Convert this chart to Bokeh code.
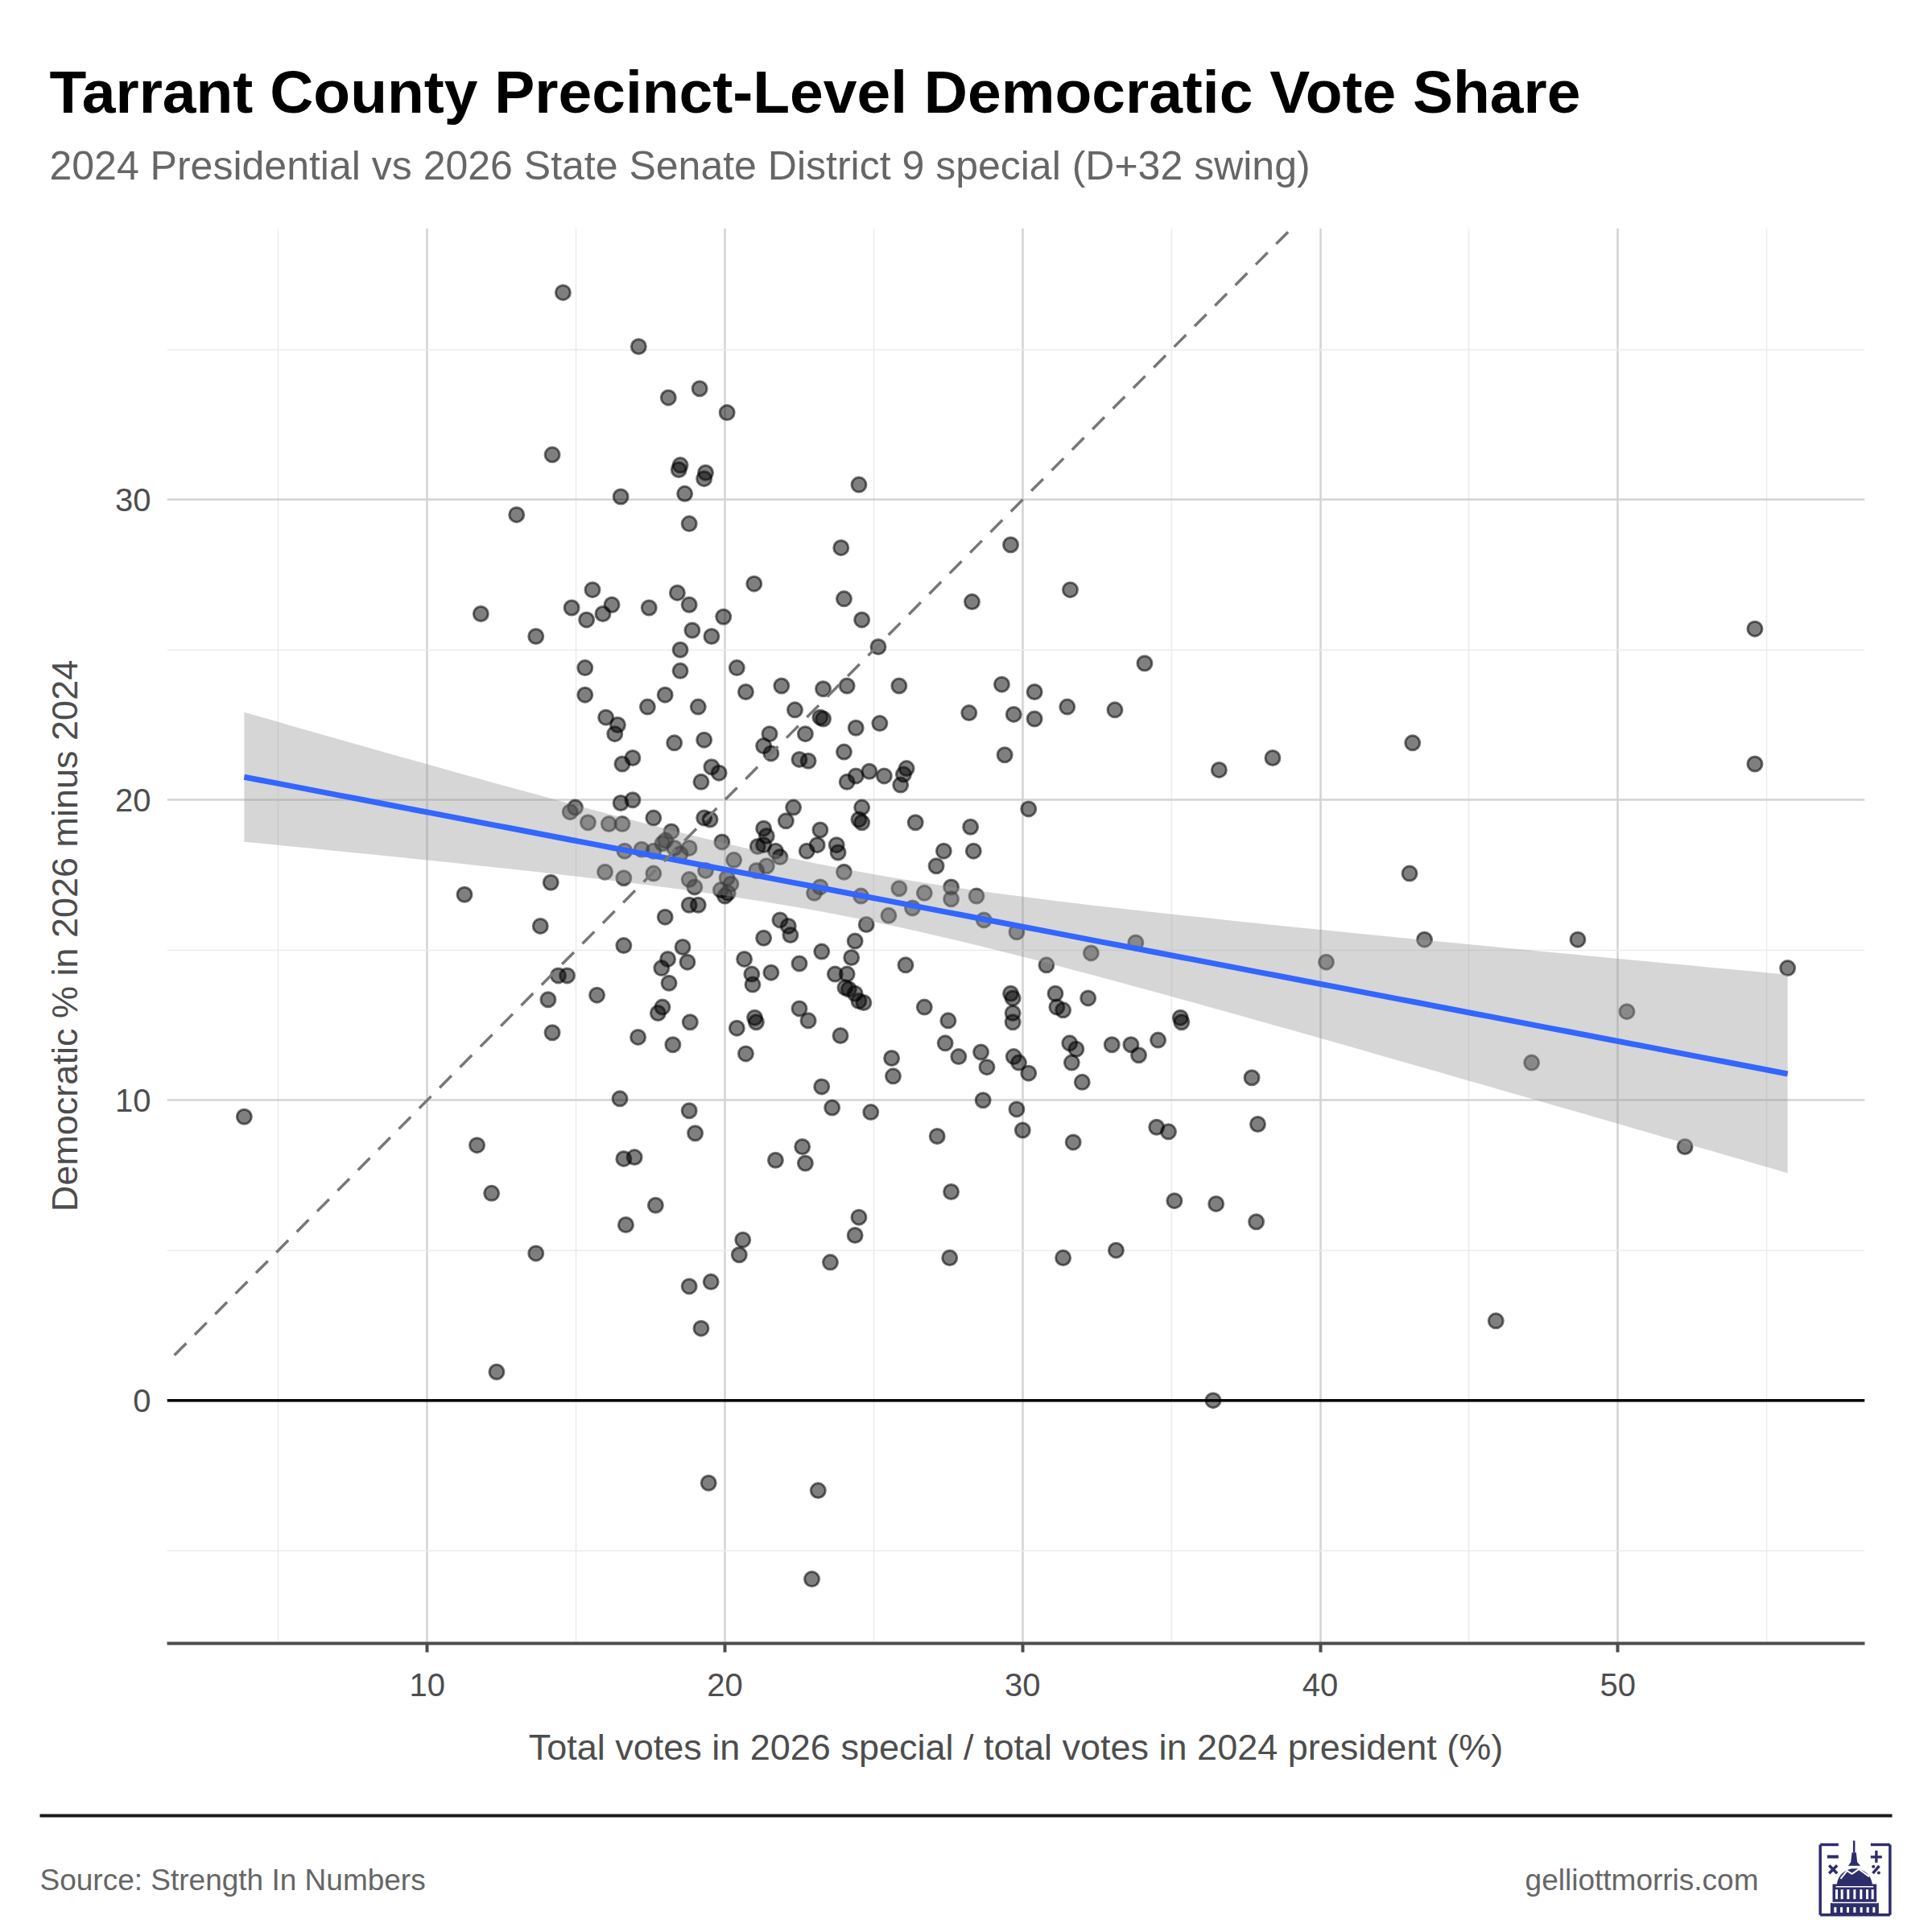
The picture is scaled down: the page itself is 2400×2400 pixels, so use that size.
import numpy as np
from bokeh.plotting import figure
from bokeh.models import Range1d, FixedTicker, Span, Slope
from bokeh.layouts import column
from bokeh.core.properties import value
from bokeh.embed import file_html
from bokeh.resources import INLINE

FONT = "Liberation Sans"

title_text = "Tarrant County Precinct-Level Democratic Vote Share"
subtitle_text = "2024 Presidential vs 2026 State Senate District 9 special (D+32 swing)"
x_label = "Total votes in 2026 special / total votes in 2024 president (%)"
y_label = "Democratic % in 2026 minus 2024"
source_text = "Source: Strength In Numbers"
site_text = "gelliottmorris.com"

x_ticks = [10, 20, 30, 40, 50]
x_minor = [5, 15, 25, 35, 45, 55]
y_ticks = [0, 10, 20, 30]
y_minor = [-5, 5, 15, 25, 35]

turnout_ratio = [
    14.56, 17.1, 18.1, 19.15, 20.07, 14.2, 18.45, 18.5, 19.35, 19.3, 18.65, 16.5, 24.5, 13.0, 18.8,
    23.9, 29.6, 11.8, 15.55, 20.98, 31.6, 18.4, 18.8, 24.0, 28.3, 14.85, 16.2, 15.9, 15.35, 17.45,
    19.95, 24.6, 18.9, 19.55, 13.65, 25.15, 18.5, 54.6, 18.5, 20.4, 34.1, 15.3, 25.85, 21.9, 24.1,
    23.3, 20.7, 29.3, 30.4, 15.3, 17.99, 19.1, 17.4, 31.5, 33.1, 22.35, 28.2, 29.7, 30.4, 16.0,
    23.2, 23.3, 25.2, 16.4, 24.4, 16.3, 21.5, 22.7, 19.3, 18.3, 43.1, 21.3, 21.55, 24.0, 29.4,
    16.9, 38.4, 22.5, 22.8, 54.6, 16.55, 19.55, 24.85, 26.1, 26.0, 36.6, 19.8, 24.4, 25.35, 19.2,
    24.1, 25.9, 30.2, 24.6, 16.5, 22.3, 14.8, 14.97, 16.9, 19.3, 19.5, 22.05, 26.4, 24.5, 24.6,
    15.4, 16.1, 16.55, 17.6, 18.2, 21.3, 23.2, 28.25, 21.4, 21.3, 19.9, 23.1, 23.75, 17.9, 18.0,
    18.3, 17.2, 16.63, 17.6, 18.8, 21.1, 21.7, 22.75, 23.8, 27.35, 28.35, 20.3, 18.5, 21.85, 21.4,
    19.35, 24.0, 21.06, 27.1, 43.0, 15.97, 17.6, 16.6, 20.07, 14.15, 18.8, 20.2, 23.2, 27.6, 18.98,
    25.85, 19.86, 23.0, 26.7, 11.25, 20.1, 20.0, 24.57, 27.6, 28.45, 26.3, 19.1, 18.8, 17.99, 21.85,
    25.5, 28.7, 24.75, 22.13, 13.8, 29.8, 22.2, 33.8, 43.5, 48.65, 21.3, 16.6, 18.58, 24.37, 32.3,
    24.25, 20.65, 23.25, 18.08, 18.74, 22.5, 26.07, 30.8, 40.2, 55.7, 17.87, 20.9, 21.55, 23.7, 14.4,
    14.7, 24.1, 18.12, 20.93, 24.16, 24.37, 15.7, 24.04, 29.6, 31.1, 29.67, 32.2, 14.06, 24.5, 24.66,
    26.7, 17.9, 31.15, 22.5, 31.36, 50.3, 17.75, 29.67, 21.0, 22.8, 18.83, 27.5, 35.3, 21.05, 29.67,
    35.34, 20.4, 14.2, 17.08, 23.88, 34.55, 18.25, 27.4, 31.58, 33.64, 31.8, 33.0, 28.6, 20.7, 33.9,
    25.6, 27.85, 29.7, 29.87, 31.65, 47.1, 28.8, 30.2, 25.65, 37.7, 32.0, 23.25, 16.47, 28.67, 29.8,
    18.8, 3.85, 24.9, 23.6, 34.5, 37.9, 34.9, 30.0, 19.0, 27.13, 31.7, 11.67, 52.25, 22.6, 16.6,
    16.96, 21.7, 22.7, 12.16, 27.6, 35.1, 36.5, 17.67, 24.5, 24.37, 37.85, 16.67, 20.6, 13.65, 20.48,
    33.14, 31.36, 27.55, 23.54, 19.53, 18.8, 19.2, 45.9, 12.33, 36.4, 19.45, 23.13, 22.92,
]

dem_shift = [
    36.9, 35.1, 33.4, 33.7, 32.9, 31.5, 31.0, 31.15, 30.9, 30.7, 30.2, 30.1, 30.5, 29.5, 29.2,
    28.4, 28.5, 26.2, 27.0, 27.2, 27.0, 26.9, 26.5, 26.7, 26.6, 26.4, 26.5, 26.2, 26.0, 26.4,
    26.1, 26.0, 25.65, 25.45, 25.45, 25.1, 25.0, 25.7, 24.3, 24.4, 24.55, 24.4, 23.8, 23.8, 23.8,
    23.7, 23.6, 23.85, 23.6, 23.5, 23.5, 23.1, 23.1, 23.1, 23.0, 23.0, 22.9, 22.85, 22.7, 22.75,
    22.75, 22.7, 22.55, 22.5, 22.4, 22.2, 22.2, 22.2, 22.0, 21.9, 21.9, 21.8, 21.55, 21.6, 21.5,
    21.4, 21.4, 21.35, 21.3, 21.2, 21.2, 21.1, 20.95, 21.05, 20.85, 21.0, 20.9, 20.8, 20.8, 20.6,
    20.6, 20.5, 19.7, 19.75, 19.9, 19.75, 19.6, 19.75, 20.0, 19.4, 19.35, 19.3, 19.25, 19.35, 19.25,
    19.25, 19.2, 19.2, 19.4, 18.95, 19.05, 19.0, 19.1, 18.8, 18.5, 18.6, 18.5, 18.5, 18.55, 18.65,
    18.4, 18.35, 18.3, 18.3, 18.4, 18.45, 18.3, 18.3, 18.25, 18.3, 18.3, 18.0, 18.2, 18.1, 17.8,
    17.65, 17.6, 17.65, 17.8, 17.55, 17.6, 17.55, 17.4, 17.4, 17.25, 17.35, 17.2, 17.1, 17.1, 17.1,
    17.05, 17.0, 16.9, 16.9, 16.85, 16.9, 16.8, 16.8, 16.7, 16.8, 16.4, 16.5, 16.5, 16.1, 16.0,
    16.15, 16.0, 15.85, 15.8, 15.8, 15.6, 15.5, 15.25, 15.35, 15.35, 15.4, 15.15, 15.1, 15.3, 14.9,
    14.75, 14.7, 14.95, 14.7, 14.6, 14.55, 14.5, 14.5, 14.6, 14.4, 14.4, 14.2, 14.25, 14.2, 14.15,
    14.15, 14.2, 13.9, 13.85, 13.7, 13.55, 13.5, 13.75, 13.55, 13.55, 13.4, 13.4, 13.35, 13.3, 13.25,
    13.1, 13.1, 13.1, 13.05, 13.0, 12.95, 12.9, 12.9, 12.75, 12.65, 12.6, 12.65, 12.75, 12.6, 12.6,
    12.6, 12.4, 12.25, 12.1, 12.15, 12.0, 11.85, 11.9, 11.9, 11.85, 11.7, 11.85, 11.6, 11.55, 11.5,
    11.4, 11.45, 11.45, 11.25, 11.25, 11.25, 11.1, 10.9, 10.8, 10.75, 10.6, 10.45, 10.05, 10.0, 9.7,
    9.65, 9.45, 9.6, 9.75, 9.1, 9.2, 8.95, 9.0, 8.9, 8.8, 8.6, 8.5, 8.45, 8.45, 8.05,
    8.1, 8.0, 7.9, 6.9, 6.95, 6.65, 6.55, 6.5, 6.1, 5.5, 5.95, 5.85, 5.35, 4.9, 4.85,
    5.0, 4.75, 4.75, 4.6, 3.95, 3.8, 2.4, 2.65, 0.95, 0.0, -2.75, -3.0, -5.95,
]

W = 2384
H_HEAD, H_MAIN, H_FOOT = 268, 1962, 154

# ---------- header ----------
head = figure(width=W, height=H_HEAD, x_range=Range1d(0, W), y_range=Range1d(H_HEAD, 0),
              output_backend="svg", toolbar_location=None, min_border=0, title=None,
              x_axis_location=None, y_axis_location=None, outline_line_color=None)
head.frame_align = False
head.grid.visible = False
head.text(x=[61], y=[113], text=[title_text], text_font=value(FONT), text_font_style="bold",
          text_font_size="75px", text_color="#000000", text_baseline="alphabetic", text_align="left")
head.text(x=[61], y=[205], text=[subtitle_text], text_font=value(FONT),
          text_font_size="50px", text_color="#666666", text_baseline="alphabetic", text_align="left")

# ---------- main ----------
xa = np.array(turnout_ratio, dtype=float)
ya = np.array(dem_shift, dtype=float)
x_lo, x_hi = xa.min(), xa.max()
y_lo, y_hi = ya.min(), ya.max()
xpad = (x_hi - x_lo) * 0.05
ypad = (y_hi - y_lo) * 0.05

p = figure(width=W, height=H_MAIN, output_backend="svg", toolbar_location=None,
           x_range=Range1d(x_lo - xpad, x_hi + xpad), y_range=Range1d(y_lo - ypad, y_hi + ypad),
           min_border_left=207, min_border_right=68, min_border_top=15, min_border_bottom=189,
           outline_line_color=None, background_fill_color="white")
p.frame_align = False

p.xaxis.ticker = FixedTicker(ticks=x_ticks, minor_ticks=x_minor)
p.yaxis.ticker = FixedTicker(ticks=y_ticks, minor_ticks=y_minor)
for ax in (p.xaxis, p.yaxis):
    ax.major_label_text_font = FONT
    ax.major_label_text_font_size = "40px"
    ax.major_label_text_color = "#4d4d4d"
    ax.axis_label_text_font = FONT
    ax.axis_label_text_font_size = "45px"
    ax.axis_label_text_font_style = "normal"
    ax.axis_label_text_color = "#4d4d4d"
    ax.minor_tick_in = 0
    ax.minor_tick_out = 0
    ax.major_tick_in = 0

p.xaxis.axis_label = x_label
p.xaxis.axis_line_color = "#4d4d4d"
p.xaxis.axis_line_width = 4
p.xaxis.major_tick_line_color = "#4d4d4d"
p.xaxis.major_tick_line_width = 4
p.xaxis.major_tick_out = 11
p.xaxis.major_label_standoff = 26
p.xaxis.axis_label_standoff = 35

p.yaxis.axis_label = y_label
p.yaxis.axis_line_color = None
p.yaxis.major_tick_line_color = None
p.yaxis.major_tick_out = 0
p.yaxis.major_label_standoff = 20
p.yaxis.axis_label_standoff = 34

for g in (p.xgrid, p.ygrid):
    g.grid_line_color = "#D3D3D3"
    g.grid_line_width = 2.5
    g.minor_grid_line_color = "#EBEBEB"
    g.minor_grid_line_width = 1.5

# linear fit with 95% confidence band
n = len(xa)
slope, intercept = np.polyfit(xa, ya, 1)
resid = ya - (slope * xa + intercept)
s = np.sqrt(np.sum(resid ** 2) / (n - 2))
xbar = xa.mean()
sxx = np.sum((xa - xbar) ** 2)
xs = np.linspace(x_lo, x_hi, 100)
fit = slope * xs + intercept
se = s * np.sqrt(1.0 / n + (xs - xbar) ** 2 / sxx)
tq = 1.968

p.scatter(xa, ya, size=18, fill_color="black", fill_alpha=0.5,
          line_color="black", line_alpha=0.55, line_width=3)
p.varea(x=xs, y1=fit - tq * se, y2=fit + tq * se, fill_color="#999999", fill_alpha=0.4)
p.line(xs, fit, line_color="#3366FF", line_width=7)
p.add_layout(Slope(gradient=1, y_intercept=0, line_color="#777777", line_width=3.5, line_dash="21 15"))
p.add_layout(Span(location=0, dimension="width", line_color="black", line_width=3.5))

# ---------- footer ----------
foot = figure(width=W, height=H_FOOT, x_range=Range1d(0, W), y_range=Range1d(H_FOOT, 0),
              output_backend="svg", toolbar_location=None, min_border=0, title=None,
              x_axis_location=None, y_axis_location=None, outline_line_color=None)
foot.frame_align = False
foot.grid.visible = False
foot.segment(x0=[49], y0=[25], x1=[2350], y1=[25], line_color="#1a1a1a", line_width=4)
foot.text(x=[49], y=[105], text=[source_text], text_font=value(FONT), text_font_size="37px",
          text_color="#666666", text_baseline="alphabetic", text_align="left")
foot.text(x=[2184], y=[105], text=[site_text], text_font=value(FONT), text_font_size="37px",
          text_color="#666666", text_baseline="alphabetic", text_align="right")

# logo (decorative icon)
NAVY = "#2E2D6C"
def lu(u):
    return 2250 + u / 3.0
def lv(v):
    return 50 + v / 3.0

frame_segs = [((32, 33), (100, 33)), ((32, 33), (32, 295)), ((32, 295), (292, 295)),
              ((292, 33), (292, 295)), ((220, 33), (292, 33))]
foot.multi_line([[lu(a[0]), lu(b[0])] for a, b in frame_segs],
                [[lv(a[1]), lv(b[1])] for a, b in frame_segs], line_color=NAVY, line_width=3.5)
foot.quad(left=[lu(58), lu(220), lu(236)], right=[lu(100), lu(262), lu(246)],
          top=[lv(72), lv(74), lv(55)], bottom=[lv(84), lv(84), lv(100)], fill_color=NAVY, line_color=None)
foot.multi_line([[lu(65), lu(95)], [lu(95), lu(65)], [lu(228), lu(252)]],
                [[lv(110), lv(140)], [lv(110), lv(140)], [lv(140), lv(112)]], line_color=NAVY, line_width=3.5)
foot.scatter([lu(230), lu(250)], [lv(115), lv(138)], size=4, fill_color=NAVY, line_color=None)
foot.segment(x0=[lu(158)], y0=[lv(18)], x1=[lu(158)], y1=[lv(62)], line_color=NAVY, line_width=2.5)
lant_u = [150, 166, 170, 182, 136, 146]
lant_v = [62, 62, 98, 112, 112, 98]
foot.patch([lu(u) for u in lant_u], [lv(v) for v in lant_v], fill_color=NAVY, line_color=None)
t = np.linspace(0, np.pi, 40)
dome_u = 160 + 66 * np.cos(t)
dome_v = 186 - 64 * np.sin(t)
foot.patch([lu(u) for u in dome_u], [lv(v) for v in dome_v], fill_color=NAVY, line_color=None)
zig_u = [108, 132, 150, 176, 214]
zig_v = [160, 130, 142, 124, 152]
foot.line([lu(u) for u in zig_u], [lv(v) for v in zig_v], line_color="white", line_width=2)
foot.quad(left=[lu(78), lu(70)], right=[lu(242), lu(250)], top=[lv(180), lv(250)],
          bottom=[lv(248), lv(292)], fill_color=NAVY, line_color=None)
foot.segment(x0=[lu(90), lu(74)], y0=[lv(190), lv(249)], x1=[lu(230), lu(246)], y1=[lv(190), lv(249)],
             line_color="white", line_width=1.5)
col_up = [93, 113, 136, 160, 184, 207, 227]
foot.quad(left=[lu(c - 4.5) for c in col_up], right=[lu(c + 4.5) for c in col_up],
          top=[lv(200)] * len(col_up), bottom=[lv(236)] * len(col_up), fill_color="white", line_color=None)
col_lo = [88, 111, 135, 160, 185, 209, 232]
foot.quad(left=[lu(c - 4.5) for c in col_lo], right=[lu(c + 4.5) for c in col_lo],
          top=[lv(266)] * len(col_lo), bottom=[lv(286)] * len(col_lo), fill_color="white", line_color=None)

layout = column(head, p, foot, spacing=0)
open("out.html", "w").write(file_html(layout, INLINE))
